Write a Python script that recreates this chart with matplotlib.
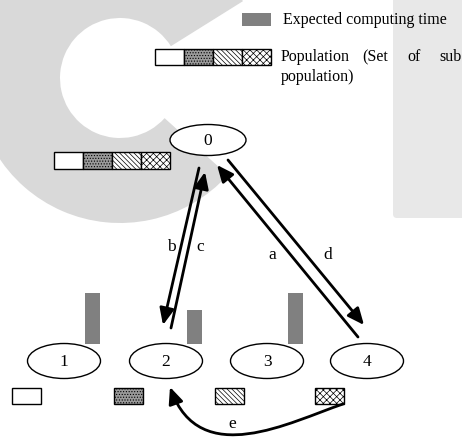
import matplotlib
matplotlib.use("Agg")
import matplotlib.pyplot as plt
from matplotlib.patches import Ellipse, Rectangle, Wedge, FancyBboxPatch, FancyArrowPatch
from matplotlib.path import Path

plt.rcParams['font.family'] = ['Liberation Serif', 'DejaVu Serif']
plt.rcParams['hatch.linewidth'] = 0.5

# nodes of the diagram (0 = master, 1..4 = workers)
node_labels = ["0", "1", "2", "3", "4"]
node_x = [208, 64, 166, 267, 367]
node_y = [140, 361, 361, 361, 361]

# expected computing time of each worker (px height of the gray bar)
expected_time = [51, 34, 51, 0]

# sub populations: fill style of each cell
sub_face = ["white", "#9a9a9a", "white", "white"]
sub_hatch = [None, "......", "\\\\\\\\\\\\\\", "xxxxx"]

# legend text, word by word (the original is justified)
legend_words = ["Population", "(Set", "of", "sub"]
legend_word_x = [281, 362, 407, 439]

# migrations: (label, start, end, label position)
arrows = [
    ("b", (199, 168), (163, 325), (171, 247)),
    ("c", (171, 328), (205, 172), (200, 247)),
    ("a", (358, 337), (217, 165), (272, 255)),
    ("d", (228, 160), (364, 325), (328, 255)),
]
# migration e, 4 -> 2, as a bezier curve
e_curve = [(343, 404), (290, 422), (200, 470), (170, 387)]

fig = plt.figure(figsize=(4.62, 4.41), dpi=100)
ax = fig.add_axes([0, 0, 1, 1])
ax.set_xlim(0, 462)
ax.set_ylim(441, 0)
ax.axis("off")

# faint watermark in the background
ax.add_patch(Wedge((120, 78), 145, 42, 328, width=85, color="#d9d9d9", lw=0, zorder=0))
ax.add_patch(FancyBboxPatch((393, -20), 90, 238, boxstyle="round,pad=0,rounding_size=4",
                            color="#e8e8e8", lw=0, zorder=0))


def pop_bar(x0, y0, w, h):
    for i in range(4):
        ax.add_patch(Rectangle((x0 + i * w, y0), w, h, facecolor=sub_face[i], hatch=sub_hatch[i],
                               edgecolor="black", lw=1.0, zorder=3))


# legend
ax.add_patch(Rectangle((242, 13), 29, 13, color="#808080", lw=0, zorder=3))
ax.text(283, 19.5, "Expected computing time", fontsize=11.5, va="center", ha="left")
pop_bar(155, 49, 29, 16)
for word, wx in zip(legend_words, legend_word_x):
    ax.text(wx, 57, word, fontsize=11.5, va="center", ha="left")
ax.text(281, 77, "population)", fontsize=11.5, va="center", ha="left")

# master node with its full population
pop_bar(54, 152, 29, 17)

for i in range(5):
    w, h = (76, 31) if i == 0 else (73, 35)
    ax.add_patch(Ellipse((node_x[i], node_y[i]), w, h, facecolor="white", edgecolor="black",
                         lw=1.0, zorder=3))
    ax.text(node_x[i], node_y[i] + 1, node_labels[i], fontsize=12.5, ha="center", va="center", zorder=4)

# workers: computing time bar + own sub population
for i in range(4):
    cx = node_x[i + 1]
    if expected_time[i] > 0:
        ax.add_patch(Rectangle((cx + 21, 344 - expected_time[i]), 15, expected_time[i],
                               color="#808080", lw=0, zorder=2))
    ax.add_patch(Rectangle((cx - 52, 388), 29, 16, facecolor=sub_face[i], hatch=sub_hatch[i],
                           edgecolor="black", lw=1.0, zorder=3))

for lab, p0, p1, lp in arrows:
    ax.add_patch(FancyArrowPatch(p0, p1, arrowstyle="-|>,head_length=0.5,head_width=0.22",
                                 mutation_scale=20, lw=2.0, color="black",
                                 shrinkA=0, shrinkB=0, zorder=5))
    ax.text(lp[0], lp[1], lab, fontsize=12.5, ha="center", va="center")

e_path = Path(e_curve, [Path.MOVETO, Path.CURVE4, Path.CURVE4, Path.CURVE4])
ax.add_patch(FancyArrowPatch(path=e_path, arrowstyle="-|>,head_length=0.5,head_width=0.22",
                             mutation_scale=20, lw=2.0, color="black", zorder=5))
ax.text(232, 424, "e", fontsize=12.5, ha="center", va="center")

fig.savefig("out.png", dpi=100)
